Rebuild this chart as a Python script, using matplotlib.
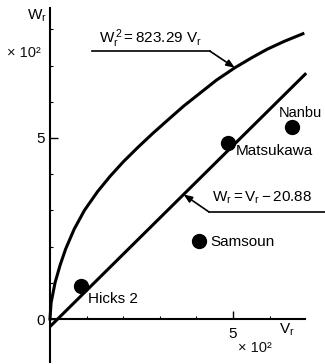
import matplotlib
matplotlib.use('Agg')
import matplotlib.pyplot as plt

# curva W_r^2 = 823.29 V_r
curva_vr = [0, 3, 14, 28, 43, 66, 94, 130, 164, 200, 240, 280, 320, 365,
            410, 455, 505, 550, 593, 640, 691]
curva_wr = [0, 45, 101, 150, 194, 248, 300, 352, 394, 434, 474, 512, 548, 588,
            624, 660, 694, 721, 745, 767, 788]

# reta W_r = V_r - 20.88
reta_vr = [0, 700]
reta_wr = [-21, 679]

locais = ['Hicks 2', 'Matsukawa', 'Nanbu', 'Samsoun']
locais_vr = [84, 485, 660, 408]
locais_wr = [91, 485, 530, 216]

plt.rcParams['font.family'] = ['Liberation Sans', 'DejaVu Sans']
plt.rcParams['mathtext.fontset'] = 'custom'
plt.rcParams['mathtext.rm'] = 'Liberation Sans'
plt.rcParams['mathtext.it'] = 'Liberation Sans'

fig = plt.figure(figsize=(3.25, 3.64), dpi=100)
ax = fig.add_axes([0, 0, 1, 1])
ax.set_xlim(-136.6, 751.4)
ax.set_ylim(-124.3, 881.2)

ax.plot(curva_vr, curva_wr, color='black', lw=2.2, solid_joinstyle='round')
ax.plot(reta_vr, reta_wr, color='black', lw=2.2, solid_capstyle='butt')
ax.plot(locais_vr, locais_wr, 'o', color='black', markersize=10)

# eixos
for s in ['top', 'right']:
    ax.spines[s].set_visible(False)
ax.spines['left'].set_position(('data', 0))
ax.spines['bottom'].set_position(('data', 0))
ax.spines['left'].set_bounds(-119, 859)
ax.spines['bottom'].set_bounds(0, 697)
ax.spines['left'].set_linewidth(1.5)
ax.spines['bottom'].set_linewidth(1.5)

ax.set_xticks([500])
ax.set_xticklabels(['5'])
ax.set_xticks([100, 200, 300, 400, 600], minor=True)
ax.set_yticks([0, 500])
ax.set_yticklabels(['0', '5'])
ax.set_yticks([100, 200, 300, 400, 600, 700, 800], minor=True)
ax.tick_params(which='major', direction='in', length=6, width=1.0, labelsize=11, pad=4)
ax.tick_params(which='minor', direction='in', length=2.5, width=0.8)
ax.tick_params(axis='x', which='major', pad=6)
ax.patch.set_visible(False)

fs = 11
ax.text(-63, 826, r'$\mathrm{W_r}$', fontsize=fs, va='baseline')
ax.text(-117, 735, '× 10²', fontsize=10.5, va='center', color='#111111')
ax.text(626, -39, r'$\mathrm{V_r}$', fontsize=fs, va='baseline')
ax.text(514, -80, '× 10²', fontsize=10.5, va='center', color='#111111')

# nomes dos locais
ax.text(104, 44, 'Hicks 2', fontsize=fs, va='baseline')
ax.text(508, 453, 'Matsukawa', fontsize=fs, va='baseline')
ax.text(626, 558, 'Nanbu', fontsize=10.5, va='baseline')
ax.text(437, 202, 'Samsoun', fontsize=fs, va='baseline')

# equacoes com linha de chamada
ax.text(134, 762, r'$\mathrm{W_r^{\,2} = 823.29\ V_r}$', fontsize=fs, va='baseline')
ax.plot([115, 437], [740, 740], color='black', lw=1.2)
ax.annotate('', xy=(505, 694), xytext=(437, 740),
            arrowprops=dict(arrowstyle='-|>,head_length=0.5,head_width=0.2',
                            color='black', lw=1.2, shrinkA=0, shrinkB=0))

ax.text(443, 323, r'$\mathrm{W_r = V_r - 20.88}$', fontsize=fs, va='baseline')
ax.plot([434, 751], [296, 296], color='black', lw=1.2)
ax.annotate('', xy=(365, 344), xytext=(434, 296),
            arrowprops=dict(arrowstyle='-|>,head_length=0.5,head_width=0.2',
                            color='black', lw=1.2, shrinkA=0, shrinkB=0))

plt.savefig('out.png', dpi=100)
